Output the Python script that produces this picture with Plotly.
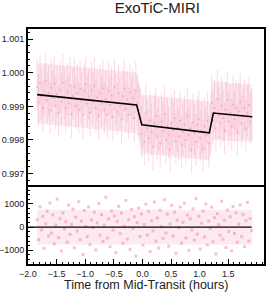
import numpy as np
import plotly.graph_objects as go

# ---- data ----
t_start = -1.84          # hours, first exposure
cadence = 0.025          # hours between plotted points

# relative-flux offsets from 1.0, in ppm
flux_ppm = [
    -420, -880, -300, -710, -1050, -560, -240, -820, -610, -1120,
    -450, -760, -330, -980, -640, -1190, -500, -870, -300, -720,
    -1050, -560, -910, -380, -1230, -690, -420, -980, -610, -1100,
    -480, -830, -1260, -560, -340, -920, -700, -1180, -520, -860,
    -390, -1060, -740, -1300, -600, -920, -460, -1100, -780, -1250,
    -540, -960, -680, -1320, -420, -890, -1150, -620, -980, -1400,
    -700, -460, -1080, -800, -1260, -580, -1000, -740, -1350, -520,
    -900, -1180,
    -1300, -1820, -1540, -2050, -1180, -1660, -1950, -1420, -1760, -2200,
    -1500, -1280, -1880, -1620, -2100, -1450, -1740, -1230, -1990, -1580,
    -1840, -2280, -1500, -1700, -1350, -2050, -1640, -1900, -1420, -2150,
    -1760, -1530, -2000, -1300, -1850, -1660, -2300, -1480, -1790, -2060,
    -1550, -1380, -1950, -1720, -2250, -1600, -1870, -1420, -2100, -1780,
    -900, -1420, -1050, -1650, -780, -1250, -1500, -980, -1350, -1720,
    -1100, -820, -1450, -1200, -1600, -950, -1380, -1050, -1780, -1150,
    -870, -1500, -1280, -1050, -1650, -1200, -960, -1450, -1320,
]
flux_err_up_ppm = 850
flux_err_down_ppm = 700

# dense core of the flux cloud (ppm offsets from 1.0), at band_t
band_t = [-1.84, -0.10, -0.01, 1.17, 1.24, 1.92]
band_hi_ppm = [300, 0, -650, -850, -250, -350]
band_lo_ppm = [-1500, -1800, -2400, -2600, -2000, -2050]

# residuals in ppm
resid_ppm = [
    320, -540, 880, -120, 460, -910, 150, 690, -380, 1040,
    -260, 530, -720, 90, 1210, -450, 370, -1030, 610, -80,
    240, -650, 950, -310, 120, 780, -890, 430, -170, 1100,
    -540, 260, -1180, 720, 40, -410, 870, -760, 310, -20,
    640, -980, 190, 1020, -350, 540, -620, 80, 1290, -470,
    360, -840, 700, -130, 480, -1100, 250, 900, -280, 610,
    -700, 40, 1150, -520, 330, -960, 760, -60, 450, -1250,
    190, 820, -400, 570, -780, 110, 990, -340, 680, -1050,
    280, -160, 1080, -600, 400, -900, 730, 20, -480, 1180,
    -250, 560, -820, 140, 940, -380, 650, -1130, 300, -30,
    870, -690, 210, 1030, -460, 520, -1000, 360, -120, 790,
    -560, 1230, -300, 470, -940, 170, 690, -420, 1000, -770,
    260, -60, 860, -630, 410, -1160, 580, 100, -350, 1120,
    -520, 300, -880, 740, -190, 450, -1020, 890, -270, 620,
    -650, 130, 960, -410, 550, -840, 280, 1070, -600, 370, -150,
]
# dense core of the residual cloud (ppm)
resid_band_t = [-1.84, 1.92]
resid_band_hi = [750, 750]
resid_band_lo = [-750, -750]

# best-fit model (breakpoints)
model_t = [-1.84, -0.10, -0.01, 1.17, 1.24, 1.92]
model_flux = [0.99935, 0.99904, 0.99845, 0.99821, 0.99880, 0.99869]

x_ticks = [-2.0, -1.5, -1.0, -0.5, 0.0, 0.5, 1.0, 1.5]
y1_ticks = [0.997, 0.998, 0.999, 1.000, 1.001]
y2_ticks = [-1000, 0, 1000]

# ---- build ----
t_flux = t_start + cadence * np.arange(len(flux_ppm))
t_res = t_start + cadence * np.arange(len(resid_ppm))
flux = 1.0 + np.array(flux_ppm) / 1e6
band_hi = 1.0 + np.array(band_hi_ppm) / 1e6
band_lo = 1.0 + np.array(band_lo_ppm) / 1e6

pink_fill = "rgba(244,150,180,0.20)"
pink_bar = "rgba(240,120,160,0.25)"
pink_pt = "rgba(240,120,160,0.45)"

fig = go.Figure()
# flux cloud core
fig.add_trace(go.Scatter(x=band_t, y=band_hi, mode="lines", line=dict(width=0),
                         xaxis="x", yaxis="y", hoverinfo="skip"))
fig.add_trace(go.Scatter(x=band_t, y=band_lo, mode="lines", line=dict(width=0),
                         fill="tonexty", fillcolor=pink_fill,
                         xaxis="x", yaxis="y", hoverinfo="skip"))
fig.add_trace(go.Scatter(
    x=t_flux, y=flux, mode="markers",
    marker=dict(size=2, color=pink_pt),
    error_y=dict(type="constant", symmetric=False,
                 value=flux_err_up_ppm / 1e6, valueminus=flux_err_down_ppm / 1e6,
                 color=pink_bar, thickness=1.1, width=0),
    xaxis="x", yaxis="y", hoverinfo="skip"))
fig.add_trace(go.Scatter(
    x=model_t, y=model_flux, mode="lines",
    line=dict(color="black", width=1.6), xaxis="x", yaxis="y"))

# residual cloud core
fig.add_trace(go.Scatter(x=resid_band_t, y=resid_band_hi, mode="lines", line=dict(width=0),
                         xaxis="x2", yaxis="y2", hoverinfo="skip"))
fig.add_trace(go.Scatter(x=resid_band_t, y=resid_band_lo, mode="lines", line=dict(width=0),
                         fill="tonexty", fillcolor=pink_fill,
                         xaxis="x2", yaxis="y2", hoverinfo="skip"))
fig.add_trace(go.Scatter(
    x=t_res, y=resid_ppm, mode="markers",
    marker=dict(size=3, color=pink_pt, symbol="square"),
    xaxis="x2", yaxis="y2", hoverinfo="skip"))
fig.add_trace(go.Scatter(
    x=[x_ticks[0], t_res[-1]], y=[0, 0], mode="lines",
    line=dict(color="black", width=1.3), xaxis="x2", yaxis="y2"))

font_fam = "Liberation Sans, Arial"
axis_common = dict(showline=True, linecolor="black", linewidth=1.8, mirror=True,
                   showgrid=False, zeroline=False, automargin=False,
                   tickfont=dict(family=font_fam, size=9, color="#222"))

xr = [-2.0, 2.126]
fig.update_layout(
    width=269, height=294,
    margin=dict(l=28, r=5, t=29, b=30),
    paper_bgcolor="white", plot_bgcolor="white",
    showlegend=False,
    title=dict(text="ExoTiC-MIRI", x=0.585, xanchor="center", y=0.972, yanchor="middle",
               font=dict(family=font_fam, size=15, color="#222")),
    xaxis=dict(domain=[0, 1], anchor="y", range=xr, showticklabels=False, ticks="",
               **axis_common),
    yaxis=dict(domain=[0.336, 1], anchor="x", range=[0.99666, 1.0013],
               tickvals=y1_ticks, tickformat=".3f", ticks="inside", ticklen=5,
               tickcolor="black", tickwidth=1.2,
               minor=dict(dtick=0.0002, tick0=0.997, ticks="inside", ticklen=2.5,
                          tickcolor="black", tickwidth=1),
               **axis_common),
    xaxis2=dict(domain=[0, 1], anchor="y2", range=xr,
                tickvals=x_ticks, tickformat=".1f", ticks="inside", ticklen=5,
                tickcolor="black", tickwidth=1.2,
                minor=dict(dtick=0.1, tick0=-2.0, ticks="inside", ticklen=2.5,
                           tickcolor="black", tickwidth=1),
                **axis_common),
    yaxis2=dict(domain=[0, 0.3277], anchor="x2", range=[-1590, 1733],
                tickvals=y2_ticks, ticks="inside", ticklen=5,
                tickcolor="black", tickwidth=1.2,
                minor=dict(dtick=200, tick0=0, ticks="inside", ticklen=2.5,
                           tickcolor="black", tickwidth=1),
                **axis_common),
    annotations=[dict(text="Time from Mid-Transit (hours)", xref="paper", yref="paper",
                      x=0.5, y=-0.088, xanchor="center", yanchor="middle", showarrow=False,
                      font=dict(family=font_fam, size=12.5, color="#222"))],
)

fig.write_html("out.html", config={"displayModeBar": False},
               post_script="document.body.style.margin='0px';document.body.style.overflow='hidden';")
